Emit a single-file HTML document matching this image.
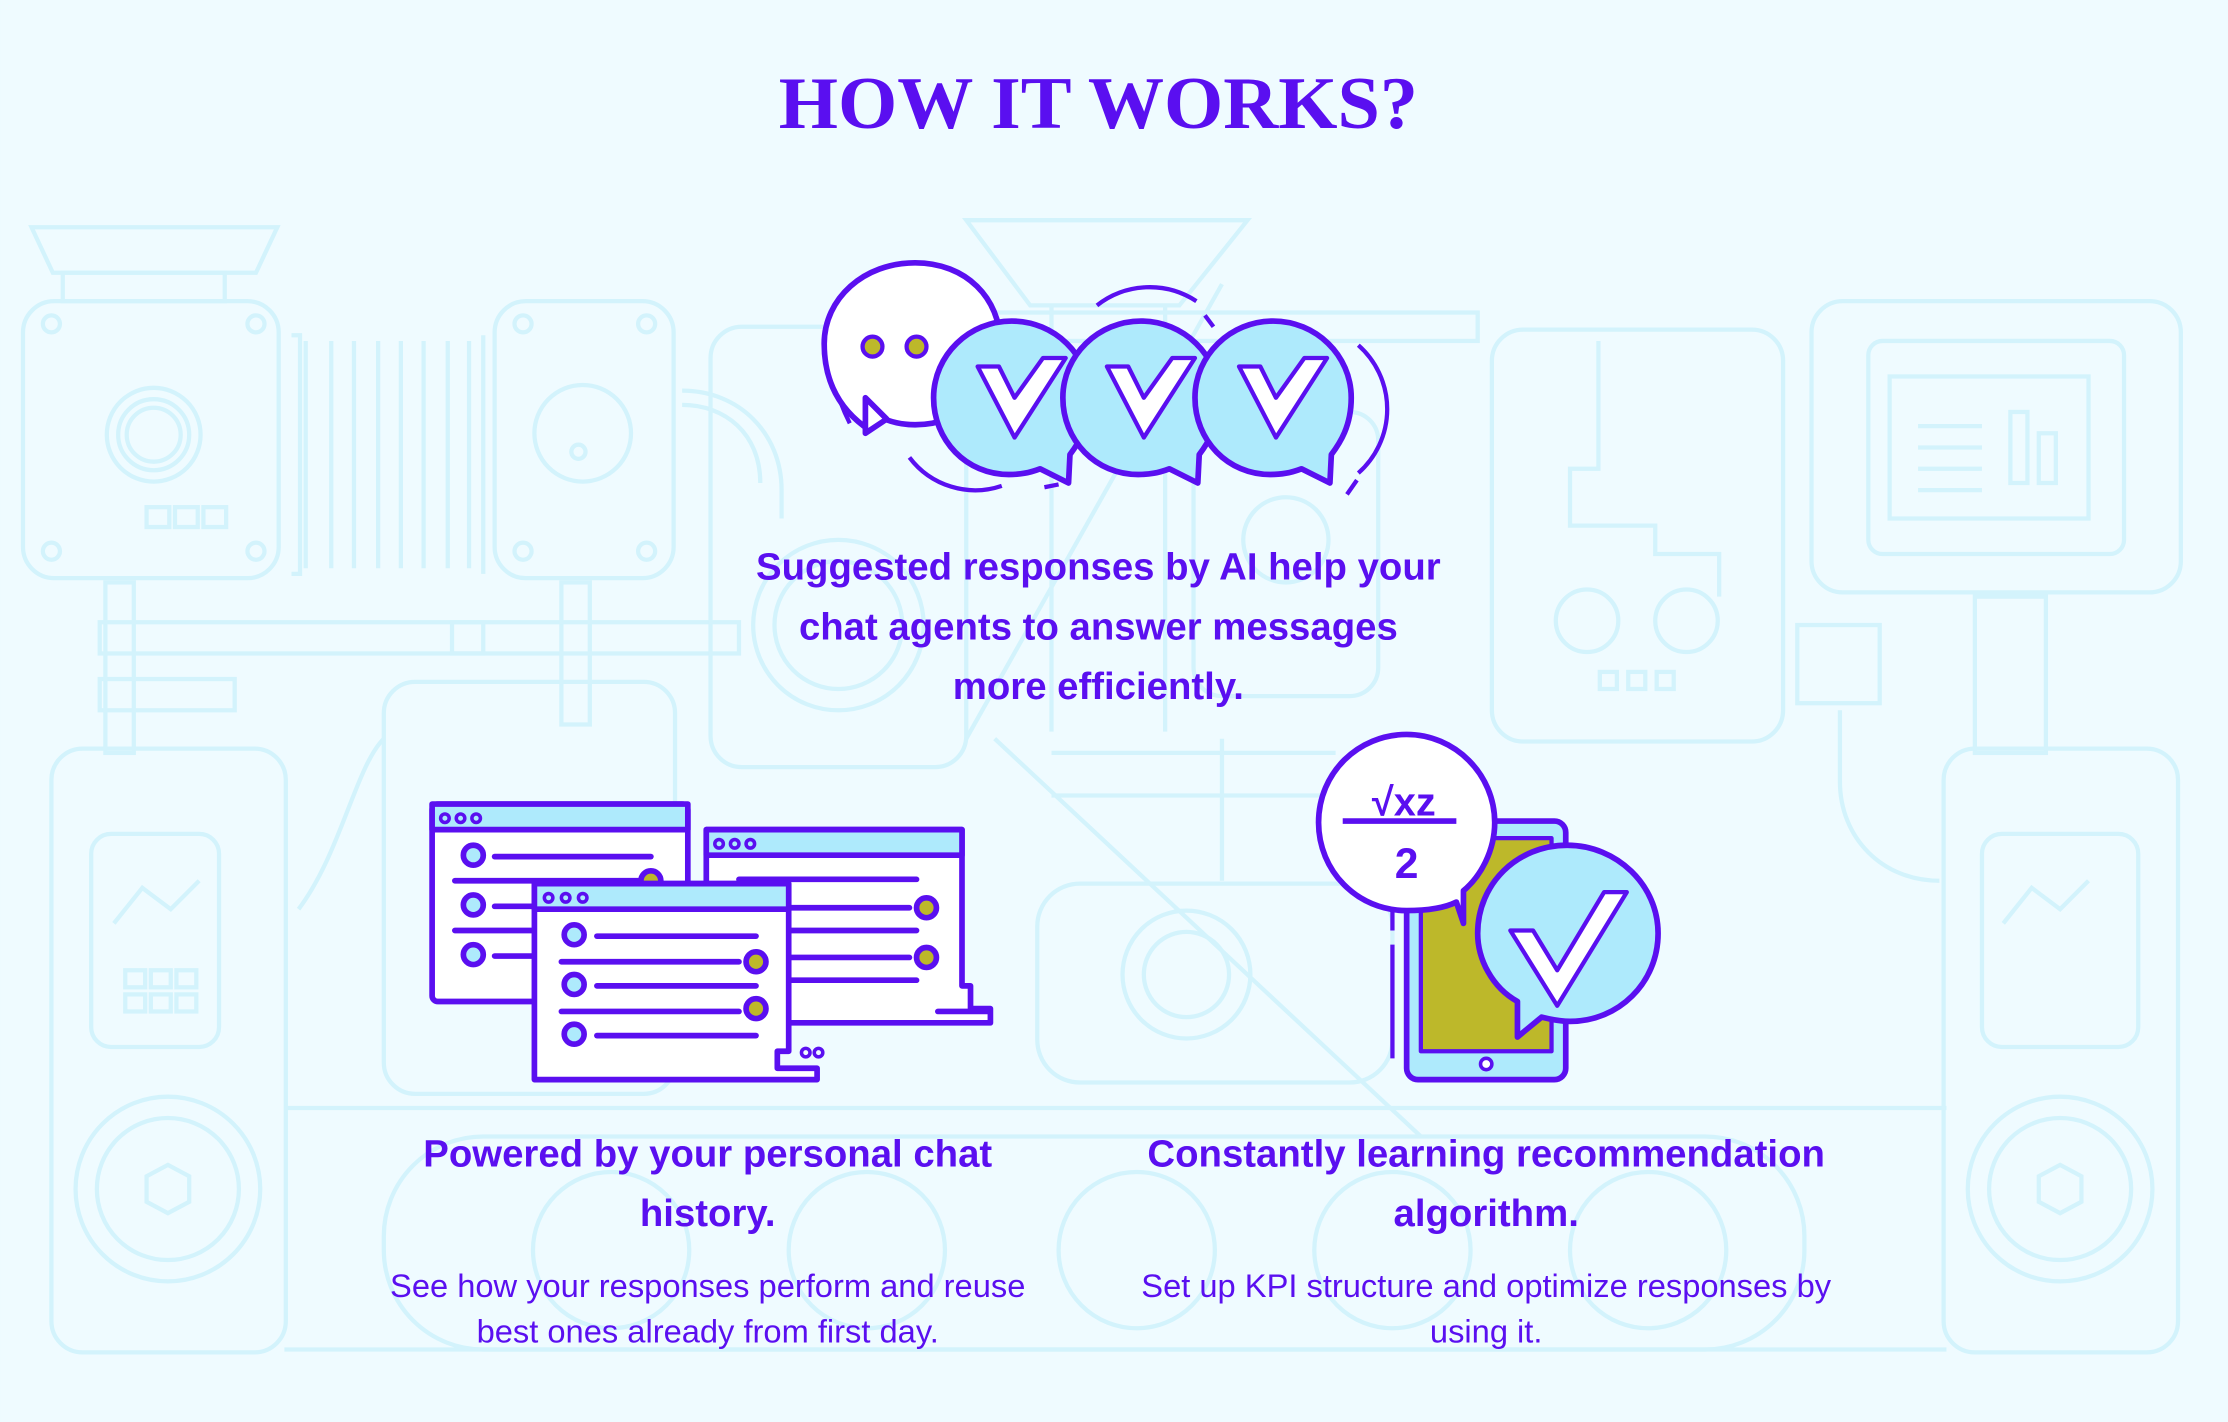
<!DOCTYPE html>
<html><head><meta charset="utf-8"><style>
html,body{margin:0;padding:0;background:#effbff;}
svg{display:block}
</style></head><body>
<svg width="2228" height="1422" viewBox="0 0 1568 1001" xmlns="http://www.w3.org/2000/svg">
<rect width="1568" height="1001" fill="#effbff"/>
<g fill="none" stroke="#d3f3fc" stroke-width="3">
 <path d="M22 160 L195 160 L180 192 L37 192 Z"/>
 <rect x="44" y="192" width="114" height="20"/>
 <rect x="16" y="212" width="180" height="195" rx="22"/>
 <circle cx="108" cy="306" r="33"/><circle cx="108" cy="306" r="25"/><circle cx="108" cy="306" r="19"/>
 <rect x="103" y="357" width="16" height="14"/><rect x="123" y="357" width="16" height="14"/><rect x="143" y="357" width="16" height="14"/>
 <circle cx="36" cy="228" r="6"/><circle cx="180" cy="228" r="6"/><circle cx="36" cy="388" r="6"/><circle cx="180" cy="388" r="6"/>
 <path d="M205 236 h6 v168 h-6 M215 240 v160 M233 240 v160 M249 240 v160 M266 240 v160 M282 240 v160 M298 240 v160 M315 240 v160 M330 240 v160 M340 236 v168"/>
 <rect x="348" y="212" width="126" height="195" rx="22"/>
 <circle cx="410" cy="305" r="34"/><circle cx="407" cy="318" r="5"/>
 <circle cx="368" cy="228" r="6"/><circle cx="455" cy="228" r="6"/><circle cx="368" cy="388" r="6"/><circle cx="455" cy="388" r="6"/>
 <path d="M480 275 c40 0 70 30 70 70 v20 M480 285 c30 0 55 20 55 55"/>
 <rect x="74" y="410" width="20" height="120"/><rect x="395" y="410" width="20" height="100"/>
 <rect x="70" y="438" width="450" height="22"/><rect x="318" y="438" width="22" height="22"/>
 <rect x="70" y="478" width="95" height="22"/>
 <rect x="36" y="527" width="165" height="425" rx="22"/>
 <rect x="64" y="587" width="90" height="150" rx="14"/><path d="M80 650 l20 -25 l20 15 l20 -20"/>
 <rect x="88" y="683" width="14" height="12"/><rect x="106" y="683" width="14" height="12"/><rect x="124" y="683" width="14" height="12"/><rect x="88" y="700" width="14" height="12"/><rect x="106" y="700" width="14" height="12"/><rect x="124" y="700" width="14" height="12"/>
 <circle cx="118" cy="837" r="65"/><circle cx="118" cy="837" r="50"/><path d="M118 820 l15 8 v18 l-15 8 l-15 -8 v-18z"/>
 <rect x="270" y="480" width="205" height="290" rx="22"/>
 <path d="M210 640 c30 -40 40 -100 60 -120"/>
 <rect x="500" y="230" width="180" height="310" rx="22"/>
 <circle cx="590" cy="440" r="60"/><circle cx="590" cy="440" r="45"/>
 <path d="M680 155 L878 155 L830 215 L725 215 Z"/>
 <path d="M740 215 v300 M820 215 v300 M700 520 L1000 800 M860 200 L680 520"/>
 <rect x="620" y="220" width="420" height="20"/>
 <rect x="840" y="290" width="130" height="200" rx="20"/><circle cx="905" cy="380" r="30"/>
 <rect x="1050" y="232" width="205" height="290" rx="22"/>
 <path d="M1125 240 v90 h-20 v40 h60 v20 h45 v30"/>
 <circle cx="1117" cy="437" r="22"/><circle cx="1187" cy="437" r="22"/>
 <rect x="1126" y="473" width="12" height="12"/><rect x="1146" y="473" width="12" height="12"/><rect x="1166" y="473" width="12" height="12"/>
 <rect x="1275" y="212" width="260" height="205" rx="22"/>
 <rect x="1315" y="240" width="180" height="150" rx="10"/><rect x="1330" y="265" width="140" height="100"/>
 <path d="M1350 300 h45 M1350 315 h45 M1350 330 h45 M1350 345 h45"/><rect x="1415" y="290" width="12" height="50"/><rect x="1435" y="305" width="12" height="35"/>
 <rect x="1390" y="420" width="50" height="110"/><rect x="1265" y="440" width="58" height="55"/>
 <path d="M1295 500 v50 c0 40 30 70 70 70"/>
 <rect x="1368" y="527" width="165" height="425" rx="22"/>
 <rect x="1395" y="587" width="110" height="150" rx="14"/><path d="M1410 650 l20 -25 l20 15 l20 -20"/>
 <circle cx="1450" cy="837" r="65"/><circle cx="1450" cy="837" r="50"/><path d="M1450 820 l15 8 v18 l-15 8 l-15 -8 v-18z"/>
 <rect x="730" y="622" width="250" height="140" rx="30"/><circle cx="835" cy="686" r="45"/><circle cx="835" cy="686" r="30"/>
 <path d="M740 530 h200 M740 560 h200 M860 520 v100"/>
 <rect x="270" y="800" width="1000" height="150" rx="70"/>
 <circle cx="430" cy="880" r="55"/><circle cx="610" cy="880" r="55"/><circle cx="800" cy="880" r="55"/><circle cx="980" cy="880" r="55"/><circle cx="1160" cy="880" r="55"/>
 <path d="M200 780 L1370 780 M200 950 L1370 950"/>
</g>

<text x="773" y="90" text-anchor="middle" font-family="Liberation Serif, serif" font-weight="bold" font-size="52" fill="#5a0ff0" textLength="450" lengthAdjust="spacingAndGlyphs">HOW IT WORKS?</text>

<!-- top icon -->
<g stroke="#5a0ff0" stroke-width="4" stroke-linejoin="round">
 <path fill="none" d="M583 238 c0 20 5 40 15 60" stroke-width="3"/>
 <path fill="#fff" d="M608 300 v-0 c-20 -15 -28 -35 -28 -58 c0 -32 28 -57 64 -57 c36 0 60 25 60 57 c0 32 -26 57 -60 57 c-10 0 -17 -2 -24 -5 z"/>
 <path fill="#fff" d="M609 280 v25 l15 -10 z"/>
 <circle cx="614" cy="244" r="7" fill="#bdb82a" stroke-width="3"/>
 <circle cx="645" cy="244" r="7" fill="#bdb82a" stroke-width="3"/>
 <g fill="none" stroke-width="3">
  <path d="M640 322 a58 58 0 0 0 65 20" />
  <path d="M735 343 l10 -2"/>
  <path d="M772 215 a60 60 0 0 1 70 -3"/><path d="M848 222 l6 8"/>
  <path d="M956 243 a60 60 0 0 1 0 90"/><path d="M955 338 l-7 10"/>
 </g>
 <g transform="translate(12 0)">
  <path fill="#aeeafc" d="M740 340 l-20 -10 c-8 3 -14 4 -22 4 c-30 0 -53 -24 -53 -54 c0 -30 25 -54 55 -54 c30 0 55 24 55 54 c0 20 -8 32 -14 40 z"/>
  <path fill="#fff" stroke-width="3" d="M676 258 h15 l11 22 l20 -28 h16 l-36 56 z"/>
 </g>
 <g transform="translate(103 0)">
  <path fill="#aeeafc" d="M740 340 l-20 -10 c-8 3 -14 4 -22 4 c-30 0 -53 -24 -53 -54 c0 -30 25 -54 55 -54 c30 0 55 24 55 54 c0 20 -8 32 -14 40 z"/>
  <path fill="#fff" stroke-width="3" d="M676 258 h15 l11 22 l20 -28 h16 l-36 56 z"/>
 </g>
 <g transform="translate(196 0)">
  <path fill="#aeeafc" d="M740 340 l-20 -10 c-8 3 -14 4 -22 4 c-30 0 -53 -24 -53 -54 c0 -30 25 -54 55 -54 c30 0 55 24 55 54 c0 20 -8 32 -14 40 z"/>
  <path fill="#fff" stroke-width="3" d="M676 258 h15 l11 22 l20 -28 h16 l-36 56 z"/>
 </g>
</g>

<g font-family="Liberation Sans, sans-serif" font-weight="bold" fill="#5a0ff0" text-anchor="middle" font-size="27">
 <text x="773" y="408">Suggested responses by AI help your</text>
 <text x="773" y="450">chat agents to answer messages</text>
 <text x="773" y="492">more efficiently.</text>
 <text x="498" y="821">Powered by your personal chat</text>
 <text x="498" y="863">history.</text>
 <text x="1046" y="821">Constantly learning recommendation</text>
 <text x="1046" y="863">algorithm.</text>
</g>
<g font-family="Liberation Sans, sans-serif" fill="#5a0ff0" text-anchor="middle" font-size="23">
 <text x="498" y="913">See how your responses perform and reuse</text>
 <text x="498" y="945">best ones already from first day.</text>
 <text x="1046" y="913">Set up KPI structure and optimize responses by</text>
 <text x="1046" y="945">using it.</text>
</g>

<!-- left windows -->
<g stroke="#5a0ff0" stroke-width="4" stroke-linejoin="round" stroke-linecap="round">
 <g>
  <rect x="304" y="566" width="180" height="139" rx="4" fill="#fff"/>
  <rect x="304" y="566" width="180" height="18" fill="#aeeafc"/>
  <circle cx="313" cy="576" r="3" fill="none" stroke-width="2.5"/><circle cx="324" cy="576" r="3" fill="none" stroke-width="2.5"/><circle cx="335" cy="576" r="3" fill="none" stroke-width="2.5"/>
  <circle cx="333" cy="602" r="7" fill="#aeeafc"/><path d="M348 603 h110"/>
  <path d="M320 620 h140"/><circle cx="333" cy="637" r="7" fill="#aeeafc"/><path d="M348 638 h110"/>
  <path d="M320 655 h140"/><circle cx="333" cy="672" r="7" fill="#aeeafc"/><path d="M348 673 h110"/>
  <circle cx="458" cy="620" r="7" fill="#bdb82a"/>
 </g>
 <g>
  <path d="M497 584 h180 v110 h6 v16 h14 v10 h-200 z" fill="#fff"/>
  <rect x="497" y="584" width="180" height="18" fill="#aeeafc"/>
  <circle cx="506" cy="594" r="3" fill="none" stroke-width="2.5"/><circle cx="517" cy="594" r="3" fill="none" stroke-width="2.5"/><circle cx="528" cy="594" r="3" fill="none" stroke-width="2.5"/>
  <path d="M520 619 h125 M540 639 h100 M520 655 h125 M540 674 h100 M520 690 h125 M660 712 h35"/>
  <circle cx="652" cy="639" r="7" fill="#bdb82a"/><circle cx="652" cy="674" r="7" fill="#bdb82a"/>
 </g>
 <g>
  <path d="M376 622 h179 v118 h-8 v12 h28 v8 h-199 z" fill="#fff"/>
  <rect x="376" y="622" width="179" height="18" fill="#aeeafc"/>
  <circle cx="386" cy="632" r="3" fill="none" stroke-width="2.5"/><circle cx="398" cy="632" r="3" fill="none" stroke-width="2.5"/><circle cx="410" cy="632" r="3" fill="none" stroke-width="2.5"/>
  <circle cx="404" cy="658" r="7" fill="#aeeafc"/><path d="M420 659 h112"/>
  <path d="M395 677 h125"/><circle cx="532" cy="677" r="7" fill="#bdb82a"/>
  <circle cx="404" cy="693" r="7" fill="#aeeafc"/><path d="M420 694 h112"/>
  <path d="M395 712 h125"/><circle cx="532" cy="710" r="7" fill="#bdb82a"/>
  <circle cx="404" cy="728" r="7" fill="#aeeafc"/><path d="M420 729 h112"/>
  <circle cx="567" cy="741" r="3" fill="none" stroke-width="2.5"/><circle cx="576" cy="741" r="3" fill="none" stroke-width="2.5"/>
 </g>
</g>

<!-- right icon -->
<g stroke="#5a0ff0" stroke-width="4" stroke-linejoin="round">
 <rect x="990" y="578" width="112" height="182" rx="8" fill="#aeeafc"/>
 <rect x="1000" y="590" width="92" height="150" fill="#bdb82a" stroke-width="3"/>
 <circle cx="1046" cy="749" r="4" fill="#fff" stroke-width="2.5"/>
 <path d="M980 605 v50 M980 665 v80" stroke-width="3"/>
 <path fill="#fff" d="M1030 650 l-5 -15 c-8 4 -20 6 -35 6 c-35 0 -62 -28 -62 -62 c0 -35 28 -62 62 -62 c34 0 62 28 62 62 c0 20 -10 38 -22 48 z"/>
 <path d="M945 578 h80" stroke-width="4"/>
 <path fill="#aeeafc" d="M1068 730 v-25 c-18 -10 -28 -30 -28 -48 c0 -35 28 -62 63 -62 c35 0 64 28 64 62 c0 35 -28 62 -62 62 c-8 0 -16 -2 -20 -3 z"/>
 <path fill="#fff" stroke-width="3" d="M1063 655 h16 l17 28 l33 -55 h16 l-49 80 z"/>
</g>
<text x="988" y="574" text-anchor="middle" font-family="Liberation Sans, sans-serif" font-weight="bold" font-size="28" fill="#5a0ff0">√xz</text>
<text x="990" y="618" text-anchor="middle" font-family="Liberation Sans, sans-serif" font-weight="bold" font-size="30" fill="#5a0ff0">2</text>
</svg>
</body></html>
